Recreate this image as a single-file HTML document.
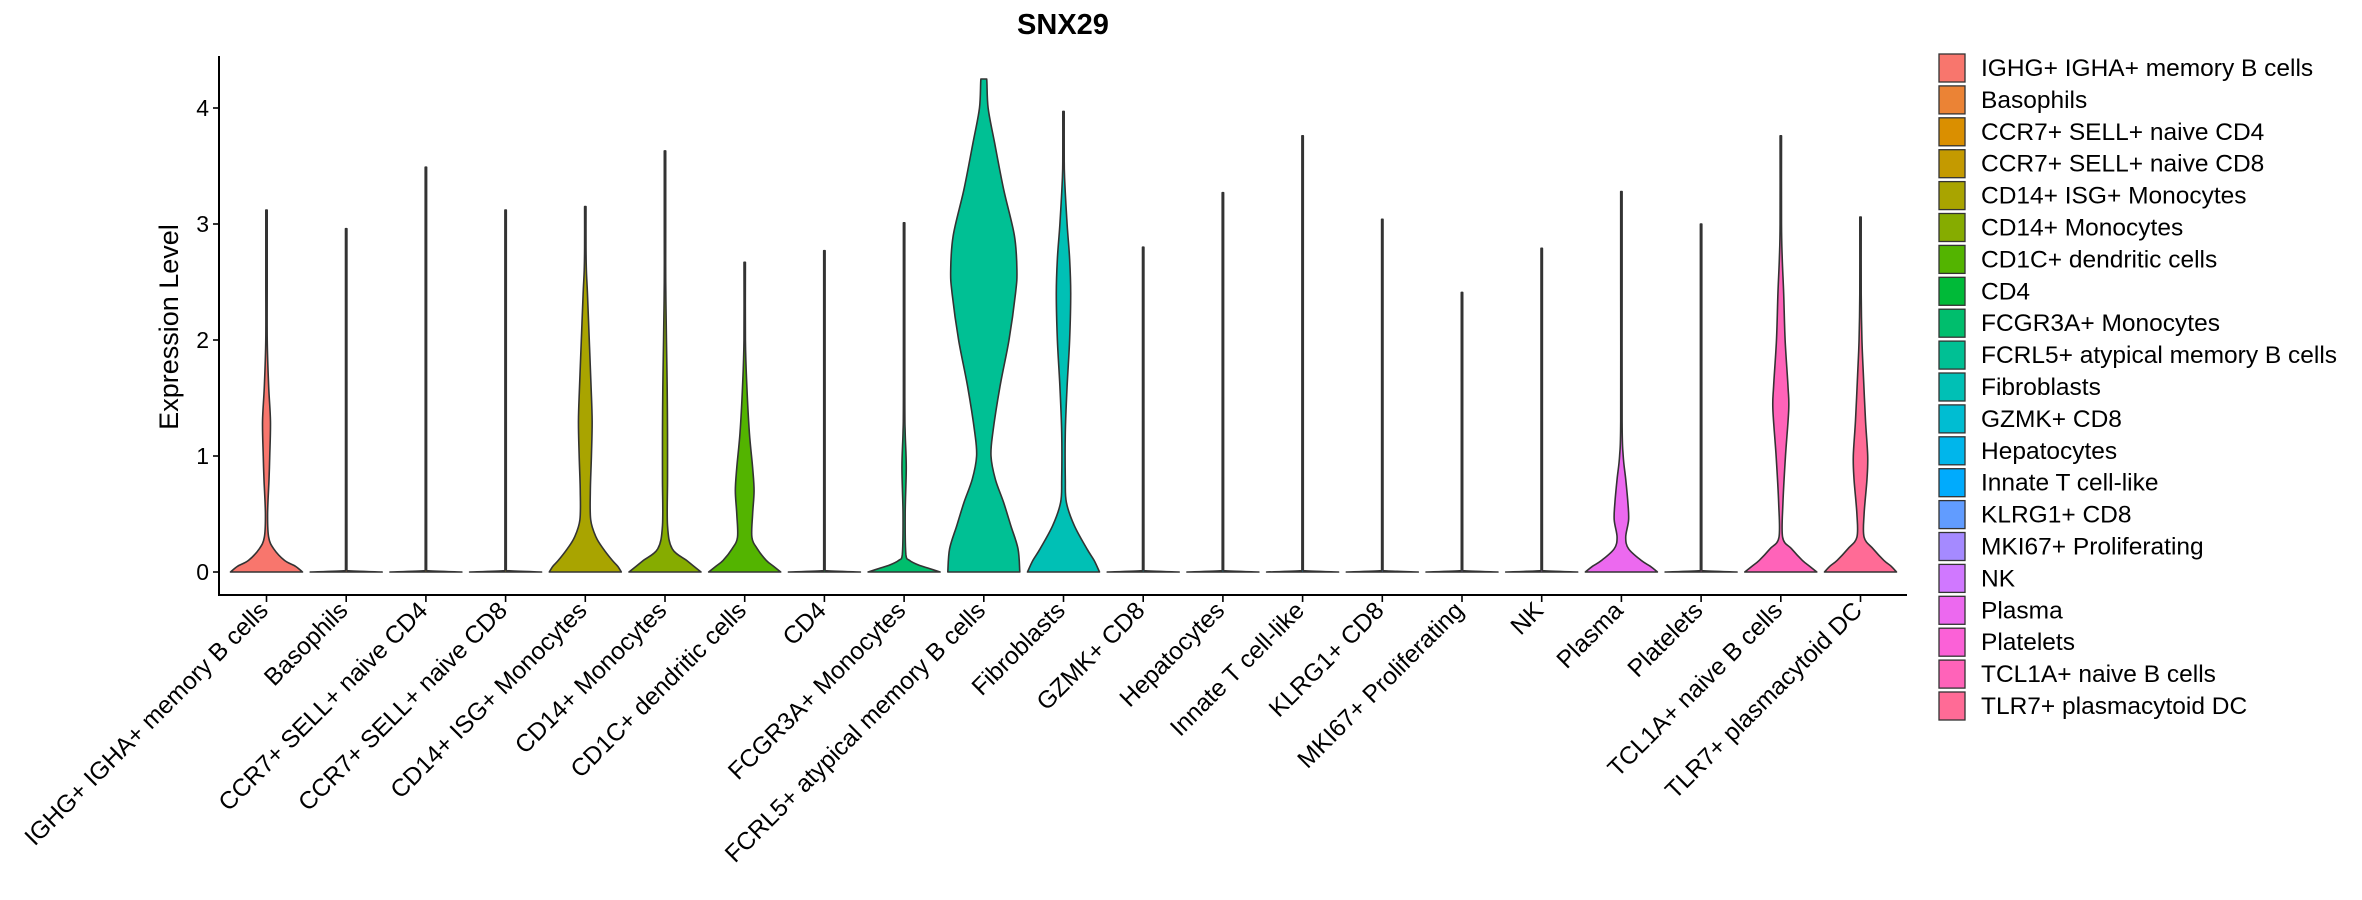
<!DOCTYPE html>
<html><head><meta charset="utf-8">
<style>
html,body{margin:0;padding:0;background:#fff;}
svg{display:block;font-family:"Liberation Sans","DejaVu Sans",sans-serif;}
</style></head>
<body>
<svg id="chart" width="2362" height="900" viewBox="0 0 2362 900" xmlns="http://www.w3.org/2000/svg">
<text x="1063" y="34" text-anchor="middle" font-size="29" font-weight="bold" fill="#000">SNX29</text>
<text transform="translate(178,327) rotate(-90)" text-anchor="middle" font-size="27" fill="#000">Expression Level</text>
<g id="plot"></g>
<g id="legend"></g>
</svg>
<script>
const categories = ["IGHG+ IGHA+ memory B cells","Basophils","CCR7+ SELL+ naive CD4","CCR7+ SELL+ naive CD8","CD14+ ISG+ Monocytes","CD14+ Monocytes","CD1C+ dendritic cells","CD4","FCGR3A+ Monocytes","FCRL5+ atypical memory B cells","Fibroblasts","GZMK+ CD8","Hepatocytes","Innate T cell-like","KLRG1+ CD8","MKI67+ Proliferating","NK","Plasma","Platelets","TCL1A+ naive B cells","TLR7+ plasmacytoid DC"];
const maxValues = [3.12,2.96,3.49,3.12,3.15,3.63,2.67,2.77,3.01,4.25,3.97,2.80,3.27,3.76,3.04,2.41,2.79,3.28,3.00,3.76,3.06];
const zeroProfile = [[0,1],[0.012,0.03],[0.03,0.004]];
const profiles = [
 [[0,1],[0.05,0.8],[0.1,0.5],[0.2,0.2],[0.3,0.06],[0.5,0.03],[0.8,0.07],[1.0,0.09],[1.3,0.11],[1.6,0.06],[2.0,0.02],[2.5,0.01]],
 zeroProfile, zeroProfile, zeroProfile,
 [[0,1],[0.05,0.9],[0.1,0.75],[0.2,0.5],[0.3,0.3],[0.45,0.15],[0.7,0.14],[1.0,0.17],[1.3,0.19],[1.6,0.16],[2.0,0.11],[2.4,0.06],[2.6,0.03],[2.8,0.01]],
 [[0,1],[0.05,0.8],[0.1,0.6],[0.2,0.2],[0.4,0.07],[0.8,0.07],[1.2,0.07],[1.6,0.06],[2.0,0.04],[2.5,0.02],[3.0,0.005]],
 [[0,1],[0.05,0.8],[0.1,0.6],[0.2,0.35],[0.3,0.2],[0.5,0.22],[0.7,0.26],[0.9,0.22],[1.2,0.13],[1.6,0.06],[2.0,0.02]],
 zeroProfile,
 [[0,1],[0.03,0.7],[0.06,0.4],[0.1,0.15],[0.15,0.05],[0.5,0.03],[0.9,0.06],[1.2,0.03],[1.5,0.01]],
 [[0,1],[0.2,0.95],[0.4,0.75],[0.6,0.55],[0.8,0.32],[1.0,0.2],[1.2,0.25],[1.6,0.45],[2.0,0.7],[2.4,0.88],[2.6,0.92],[2.9,0.85],[3.3,0.55],[3.7,0.3],[4.0,0.12],[4.25,0.08]],
 [[0,1],[0.1,0.85],[0.2,0.65],[0.4,0.3],[0.6,0.08],[0.8,0.05],[1.2,0.05],[1.6,0.1],[2.0,0.17],[2.4,0.2],[2.7,0.17],[3.0,0.1],[3.4,0.03],[3.6,0.01]],
 zeroProfile, zeroProfile, zeroProfile, zeroProfile, zeroProfile, zeroProfile,
 [[0,1],[0.05,0.8],[0.1,0.55],[0.2,0.2],[0.3,0.12],[0.45,0.2],[0.6,0.18],[0.8,0.12],[1.0,0.05],[1.3,0.01],[2.5,0.005]],
 zeroProfile,
 [[0,1],[0.05,0.8],[0.1,0.6],[0.2,0.3],[0.3,0.05],[0.6,0.06],[1.0,0.13],[1.4,0.22],[1.6,0.2],[2.0,0.12],[2.4,0.08],[2.7,0.04],[3.0,0.005]],
 [[0,1],[0.05,0.85],[0.1,0.65],[0.2,0.35],[0.3,0.1],[0.5,0.1],[0.8,0.18],[1.0,0.2],[1.3,0.14],[1.7,0.08],[2.0,0.04],[2.4,0.01]]
];
const yTicks = [0,1,2,3,4];

const NS = "http://www.w3.org/2000/svg";
const X0 = 219, X1 = 1907, Y_TOP = 56, Y_BOT = 595;
const xFirst = 266.5, xStep = 79.7, halfW = 36;
const y0px = 572, unitPx = 116;
function xScale(i){ return xFirst + i*xStep; }
function yScale(v){ return y0px - v*unitPx; }

function hcl2hex(h,c,l){
  const hr=h*Math.PI/180;
  const L=l, U=c*Math.cos(hr), V=c*Math.sin(hr);
  const Xn=0.95047,Yn=1,Zn=1.08883;
  const un=4*Xn/(Xn+15*Yn+3*Zn), vn=9*Yn/(Xn+15*Yn+3*Zn);
  const Y = L>8 ? Yn*Math.pow((L+16)/116,3) : Yn*L/903.3;
  const u=U/(13*L)+un, v=V/(13*L)+vn;
  const X=Y*9*u/(4*v), Z=Y*(12-3*u-20*v)/(4*v);
  let r=3.2404542*X-1.5371385*Y-0.4985314*Z;
  let g=-0.9692660*X+1.8760108*Y+0.0415560*Z;
  let b=0.0556434*X-0.2040259*Y+1.0572252*Z;
  const f=t=>{t=t<=0.0031308?12.92*t:1.055*Math.pow(t,1/2.4)-0.055;return Math.round(Math.max(0,Math.min(1,t))*255);};
  return "#"+[f(r),f(g),f(b)].map(n=>n.toString(16).padStart(2,"0")).join("");
}
const n = categories.length;
const colors = [];
for(let i=0;i<n;i++){ colors.push(hcl2hex(15+360*i/n,100,65)); }

function mk(tag, attrs, parent){ const e=document.createElementNS(NS,tag); for(const k in attrs) e.setAttribute(k,attrs[k]); parent.appendChild(e); return e; }
const plot = document.getElementById("plot");
const legend = document.getElementById("legend");

function clamp(v,a,b){ const lo=Math.min(a,b), hi=Math.max(a,b); return Math.max(lo,Math.min(hi,v)); }
function smoothSegs(pts, cx){
  let d = "";
  for(let i=0;i<pts.length-1;i++){
    const p0=pts[Math.max(i-1,0)], p1=pts[i], p2=pts[i+1], p3=pts[Math.min(i+2,pts.length-1)];
    let c1=[p1[0]+(p2[0]-p0[0])/6, p1[1]+(p2[1]-p0[1])/6];
    let c2=[p2[0]-(p3[0]-p1[0])/6, p2[1]-(p3[1]-p1[1])/6];
    c1[1]=clamp(c1[1],p1[1],p2[1]); c2[1]=clamp(c2[1],p1[1],p2[1]);
    const side = Math.sign(p1[0]-cx) || Math.sign(p2[0]-cx);
    if(side>0){ c1[0]=Math.max(c1[0],cx+0.5); c2[0]=Math.max(c2[0],cx+0.5); }
    else { c1[0]=Math.min(c1[0],cx-0.5); c2[0]=Math.min(c2[0],cx-0.5); }
    d += " C"+c1[0].toFixed(2)+","+c1[1].toFixed(2)+" "+c2[0].toFixed(2)+","+c2[1].toFixed(2)+" "+p2[0].toFixed(2)+","+p2[1].toFixed(2);
  }
  return d;
}

categories.forEach((cat,i)=>{
  const cx = xScale(i);
  const prof = profiles[i].slice();
  prof.push([maxValues[i],0.0]);
  const pts = prof.filter(p=>p[0]<=maxValues[i]);
  const right = pts.map(p=>[cx+Math.max(p[1]*halfW,0.7), yScale(p[0])]);
  const left = pts.slice().reverse().map(p=>[cx-Math.max(p[1]*halfW,0.7), yScale(p[0])]);
  const d = "M"+right[0][0].toFixed(2)+","+right[0][1].toFixed(2)+smoothSegs(right,cx)+
            " L"+left[0][0].toFixed(2)+","+left[0][1].toFixed(2)+smoothSegs(left,cx)+" Z";
  const path = mk("path",{d:d, fill:colors[i], stroke:"#333", "stroke-width":"1.6", "stroke-linejoin":"round"}, plot);
  
  
});

const ya = mk("line",{x1:X0,y1:Y_TOP,x2:X0,y2:Y_BOT,stroke:"#000","stroke-width":"2"},plot);


const xa = mk("line",{x1:X0-1,y1:Y_BOT,x2:X1,y2:Y_BOT,stroke:"#000","stroke-width":"2"},plot);



yTicks.forEach(v=>{
  const y=yScale(v);
  const t = mk("line",{x1:X0-6,y1:y,x2:X0,y2:y,stroke:"#000","stroke-width":"1.6"},plot);
  
  
  const tx = mk("text",{x:X0-10,y:y+8,"text-anchor":"end","font-size":"23",fill:"#000"},plot);
  tx.textContent = String(v);
  
  
});

categories.forEach((cat,i)=>{
  const x=xScale(i);
  const t = mk("line",{x1:x,y1:Y_BOT,x2:x,y2:Y_BOT+7,stroke:"#000","stroke-width":"1.6"},plot);
  
  
  const tx = mk("text",{transform:"translate("+(x+3)+","+(Y_BOT+17)+") rotate(-45)","text-anchor":"end","font-size":"24.5",fill:"#000"},plot);
  tx.textContent = cat;
  
  
});

const LX=1939, LY=54, LSTEP=31.9;
categories.forEach((cat,i)=>{
  const y=LY+i*LSTEP;
  const r = mk("rect",{x:LX,y:y,width:26,height:28,fill:colors[i],stroke:"#333","stroke-width":"1.3"},legend);
  
  
  const tx = mk("text",{x:1981,y:y+22,"font-size":"24.5",fill:"#000","xml:space":"preserve"},legend);
  tx.textContent = (i===0?" ":"")+cat;
  
  
});
</script>
</body></html>
